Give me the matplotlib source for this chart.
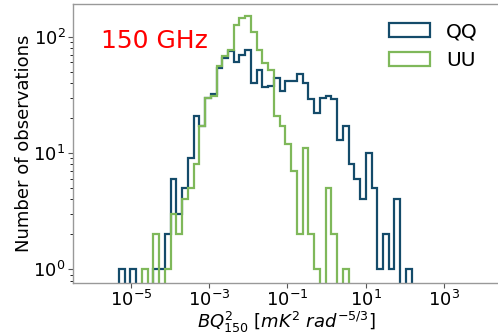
import numpy as np
import matplotlib
matplotlib.use("Agg")
import matplotlib.pyplot as plt

# Common logarithmic bins (log10 of BQ^2_150)
log_lo, log_hi, n_bins = -5.307, 2.175, 51

qq_counts = [1, 0, 1, 0, 0, 0, 1, 1, 2, 6,
             3, 5, 9, 21, 17, 30, 32, 54, 66, 75,
             61, 70, 77, 40, 52, 37, 38, 44, 34, 42,
             42, 48, 40, 29, 22, 30, 31, 29, 13, 17,
             8, 6, 4, 10, 5, 1, 2, 1, 4, 0,
             1]
uu_counts = [0, 0, 0, 0, 1, 0, 2, 0, 1, 3,
             2, 4, 5, 8, 17, 30, 31, 56, 68, 77,
             127, 145, 150, 110, 77, 59, 52, 21, 17, 12,
             7, 2, 11, 2, 1, 0, 5, 2, 0, 1,
             0, 0, 0, 0, 0, 0, 0, 0, 0, 0,
             0]
series_labels = ["QQ", "UU"]
series_colors = ["#144b6a", "#7fb85a"]
annot = "150 GHz"

edges = np.logspace(log_lo, log_hi, n_bins + 1)
centers = np.sqrt(edges[:-1] * edges[1:])

fig = plt.figure(figsize=(4.98, 3.33), dpi=100)
ax = fig.add_axes([73 / 498, 1 - 282.7 / 333, (500 - 73) / 498, (282.7 - 4) / 333])

for counts, lab, col in zip([qq_counts, uu_counts], series_labels, series_colors):
    ax.hist(centers, bins=edges, weights=counts, histtype="step",
            color=col, lw=1.6, label=lab)

ax.set_xscale("log")
ax.set_yscale("log")
ax.set_xlim(10 ** -6.481, 10 ** 4.432)
ax.set_ylim(10 ** -0.115, 10 ** 2.281)

for s in ax.spines.values():
    s.set_color("#999999")
    s.set_linewidth(1.0)
ax.tick_params(labelsize=13, color="#555555", pad=2)

ax.set_xlabel(r"$BQ^2_{150}\ [mK^2\ rad^{-5/3}]$", fontsize=13)
ax.xaxis.set_label_coords(0.5, -0.098)
ax.set_ylabel("Number of observations", fontsize=13)
ax.yaxis.set_label_coords(-0.093, 0.5)

ax.text((101 - 73) / 427, 0.842, annot, color="red",
        fontsize=18, transform=ax.transAxes, va="baseline")

ax.legend(loc="upper right", frameon=False, fontsize=14.5,
          bbox_to_anchor=(0.99, 1.0))

fig.savefig("out.png", dpi=100)
